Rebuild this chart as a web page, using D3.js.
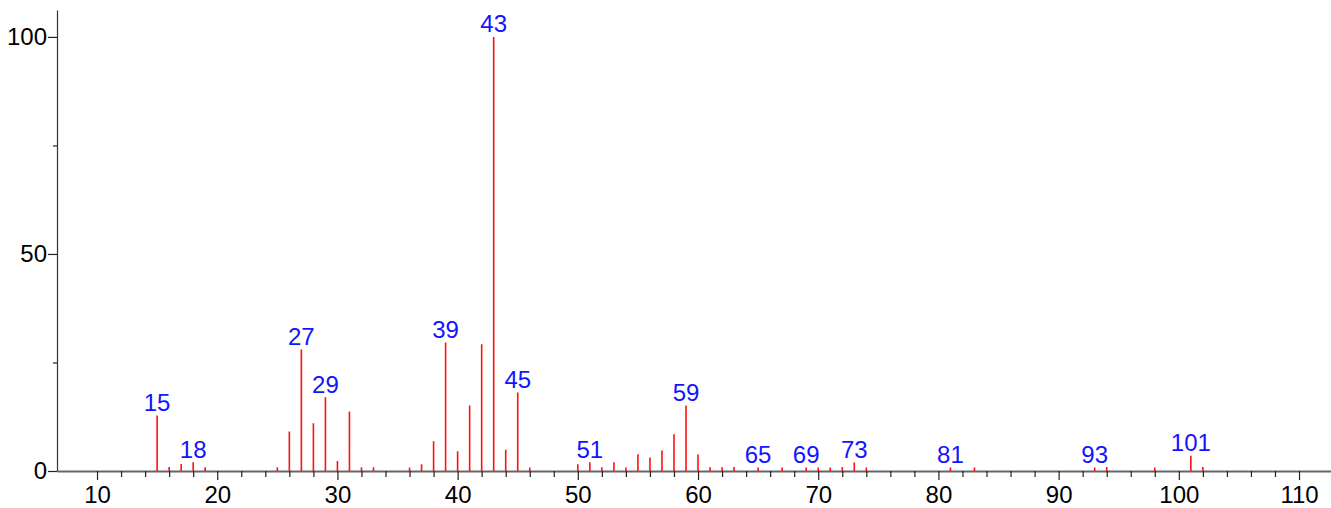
<!DOCTYPE html>
<html>
<head>
<meta charset="utf-8">
<script src="https://cdn.jsdelivr.net/npm/d3@7"></script>
<style>
  html, body { margin: 0; padding: 0; background: #fff; }
  svg { display: block; }
</style>
</head>
<body>
<svg id="chart" width="1331" height="508"></svg>
<script>
// Mass spectrum: m/z positions and relative intensities (%)
const mz = [15, 16, 17, 18, 19, 25, 26, 27, 28, 29, 30, 31, 32, 33,
            36, 37, 38, 39, 40, 41, 42, 43, 44, 45, 46,
            50, 51, 52, 53, 54, 55, 56, 57, 58, 59, 60, 61, 62, 63,
            65, 67, 69, 70, 71, 72, 73, 74, 81, 83, 93, 94, 98, 101, 102];
const intensity = [12.8, 0.9, 1.6, 2.0, 0.85, 0.85, 9.1, 28.0, 11.0, 17.0, 2.3, 13.7, 0.85, 0.85,
                   0.8, 1.55, 6.85, 29.6, 4.55, 15.1, 29.2, 100, 4.9, 18.1, 0.8,
                   1.55, 2.0, 0.85, 2.0, 0.8, 3.85, 3.1, 4.7, 8.45, 15.1, 3.8, 0.85, 0.85, 0.9,
                   0.8, 0.8, 0.8, 0.8, 0.8, 0.9, 2.0, 0.8, 0.8, 0.8, 0.8, 0.9, 0.8, 3.5, 0.9];
// Peaks that carry an m/z annotation
const labeledPeaks = [15, 18, 27, 29, 39, 43, 45, 51, 59, 65, 69, 73, 81, 93, 101];

// Axis ticks
const xMajorTicks = [10, 20, 30, 40, 50, 60, 70, 80, 90, 100, 110];
const xMinorTicks = d3.range(12, 110, 2).filter(v => v % 10 !== 0);
const yMajorTicks = [0, 50, 100];
const yMinorTicks = [25, 75];

const svg = d3.select("#chart");
const fontFamily = "'Liberation Sans', Arial, Helvetica, sans-serif";
const fontSize = 24;

const x = d3.scaleLinear().domain([6.67, 112.66]).range([57, 1331]);
const y = d3.scaleLinear().domain([0, 106.2]).range([471, 10]);

// X axis: labelled major ticks, unlabelled minor ticks
const xMajor = svg.append("g")
  .attr("transform", `translate(0,${y(0)})`)
  .call(d3.axisBottom(x).tickValues(xMajorTicks).tickSize(9).tickSizeOuter(0).tickPadding(6)
        .tickFormat(d3.format("d")));
svg.append("g")
  .attr("transform", `translate(0,${y(0)})`)
  .call(d3.axisBottom(x).tickValues(xMinorTicks).tickSize(6).tickSizeOuter(0).tickFormat(""))
  .call(g => g.select(".domain").remove());

// Y axis
const yMajor = svg.append("g")
  .attr("transform", `translate(${x.range()[0]},0)`)
  .call(d3.axisLeft(y).tickValues(yMajorTicks).tickSize(9).tickSizeOuter(0).tickPadding(1)
        .tickFormat(d3.format("d")));
svg.append("g")
  .attr("transform", `translate(${x.range()[0]},0)`)
  .call(d3.axisLeft(y).tickValues(yMinorTicks).tickSize(4).tickSizeOuter(0).tickFormat(""))
  .call(g => g.select(".domain").remove());

svg.selectAll(".tick text")
  .attr("font-family", fontFamily)
  .attr("font-size", fontSize)
  .attr("fill", "#000");
svg.selectAll(".tick line").attr("stroke", "#222").attr("stroke-width", 1.2);
xMajor.select(".domain").attr("stroke", "#666").attr("stroke-width", 2);
yMajor.select(".domain").attr("stroke", "#333").attr("stroke-width", 1.2);

// Spectrum sticks
const peaks = mz.map((m, i) => ({ mz: m, value: intensity[i] }));
svg.append("g")
  .selectAll("line")
  .data(peaks)
  .join("line")
  .attr("x1", d => x(d.mz))
  .attr("x2", d => x(d.mz))
  .attr("y1", y(0))
  .attr("y2", d => y(d.value))
  .attr("stroke", "#ff1010")
  .attr("stroke-width", 1.6);

// m/z annotations above selected peaks
svg.append("g")
  .selectAll("text")
  .data(peaks.filter(d => labeledPeaks.includes(d.mz)))
  .join("text")
  .attr("x", d => x(d.mz))
  .attr("y", d => y(d.value) - 4.5)
  .attr("text-anchor", "middle")
  .attr("font-family", fontFamily)
  .attr("font-size", fontSize)
  .attr("fill", "#1414ff")
  .text(d => d.mz);
</script>
</body>
</html>
